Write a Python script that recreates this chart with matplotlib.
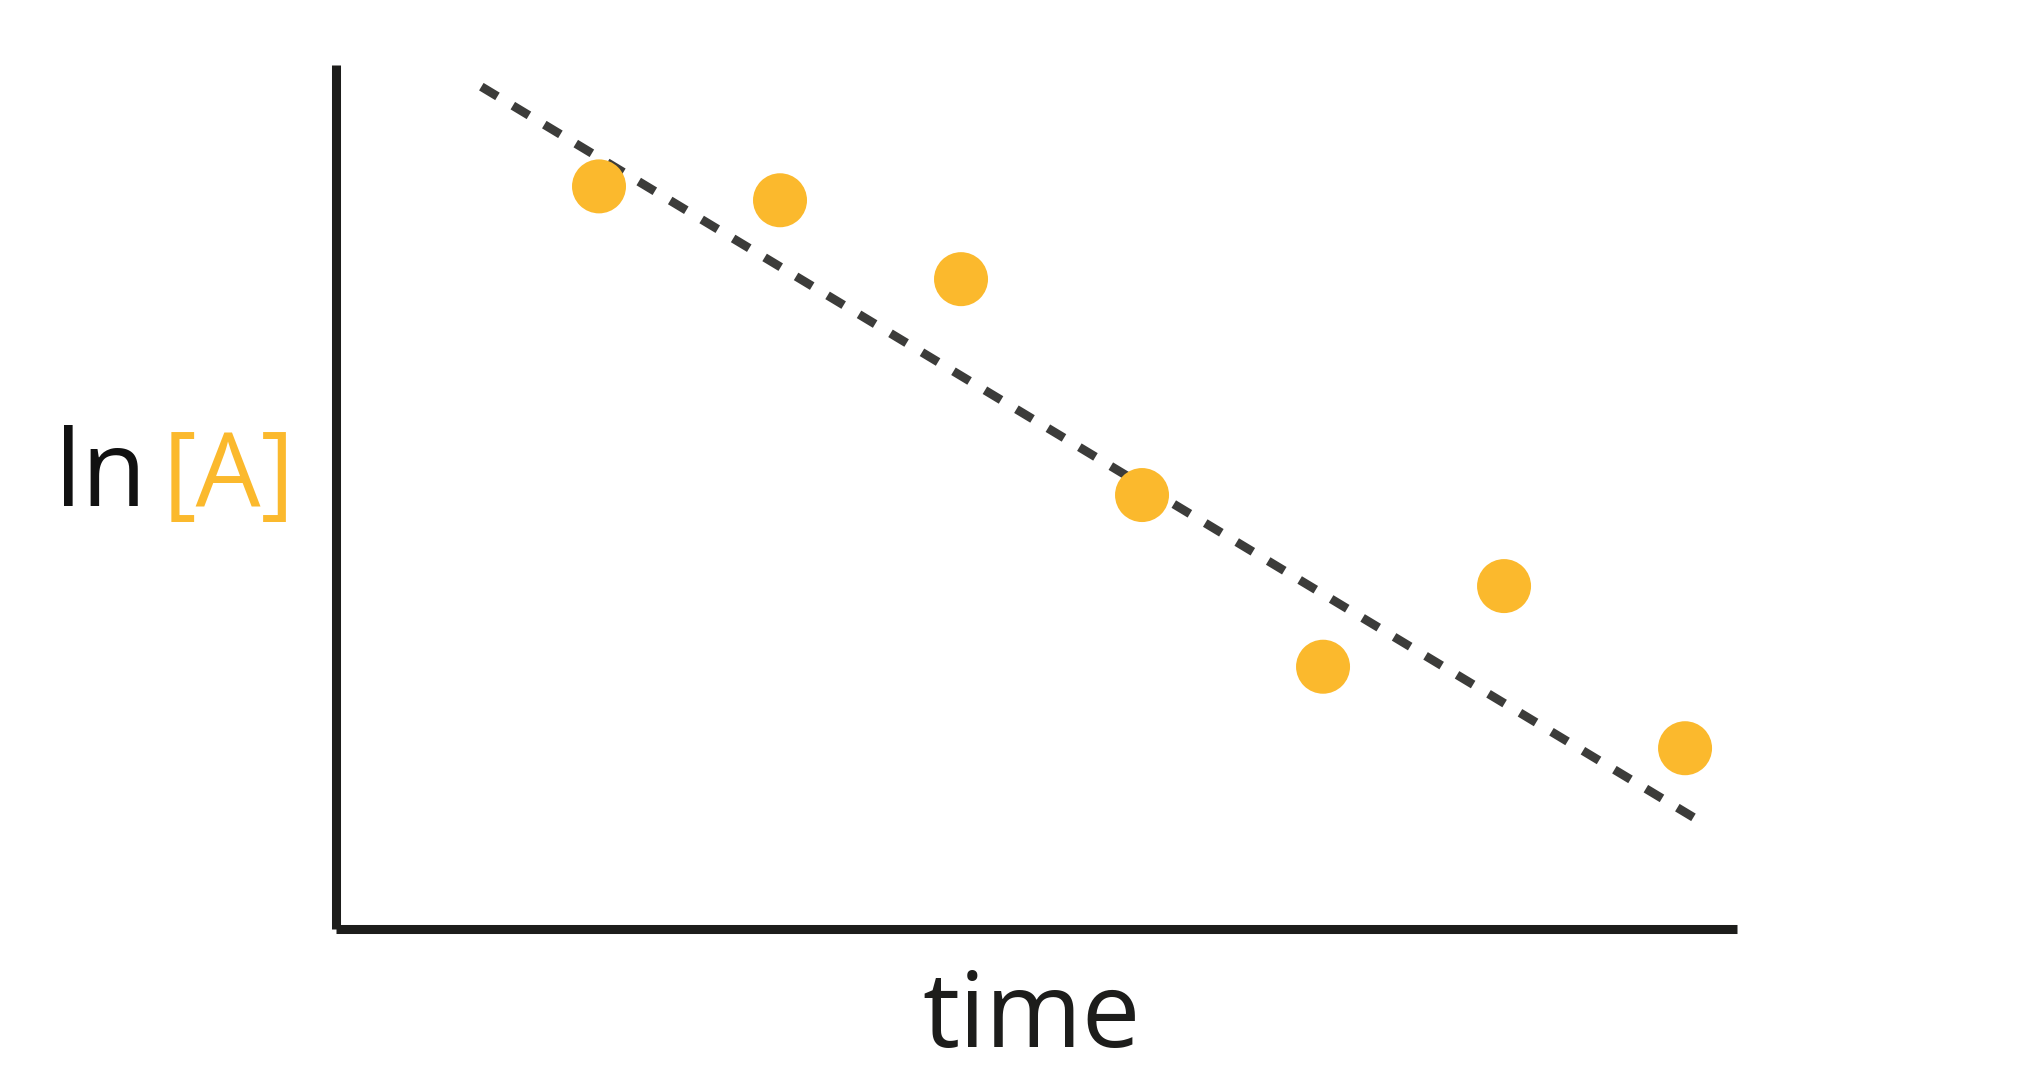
import matplotlib
matplotlib.use("Agg")
import matplotlib.pyplot as plt

# data
time = [1, 2, 3, 4, 5, 6, 7]
ln_A = [8.60, 8.44, 7.53, 5.04, 3.06, 3.99, 2.12]
fit_x = [0.35, 7.12]
fit_y = [9.75, 1.23]

DOT = "#FBB92D"
LINE = "#3c3c3a"
AX = "#1d1d1b"

plt.rcParams['font.family'] = ['Open Sans', 'DejaVu Sans']

fig = plt.figure(figsize=(20.42, 10.82), dpi=100)
ax = fig.add_axes([336/2042, 153/1082, (1737-336)/2042, (929-65)/1082])
ax.set_xlim(-0.453, 7.287)
ax.set_ylim(0.035, 10.0)

ax.plot(fit_x, fit_y, color=LINE, lw=6.3, dashes=(2.15, 2.05), solid_capstyle='butt', dash_capstyle='butt', zorder=2)
ax.scatter(time, ln_A, s=(54*72/100)**2, color=DOT, edgecolors='none', zorder=3)

for s in ['top', 'right']:
    ax.spines[s].set_visible(False)
for s in ['left', 'bottom']:
    ax.spines[s].set_color(AX)
    ax.spines[s].set_linewidth(6.5)
    ax.spines[s].set_capstyle('butt')
ax.set_xticks([])
ax.set_yticks([])

fig.text(1032/2042, 1 - 1047/1082, "time", ha='center', va='baseline', fontsize=75, color=AX)
fig.text(55/2042, 1 - 506/1082, "ln", ha='left', va='baseline', fontsize=76, color='#111111')
fig.text(163/2042, 1 - 506/1082, "[A]", ha='left', va='baseline', fontsize=74, color=DOT)

fig.savefig("out.png", dpi=100, facecolor='white')
